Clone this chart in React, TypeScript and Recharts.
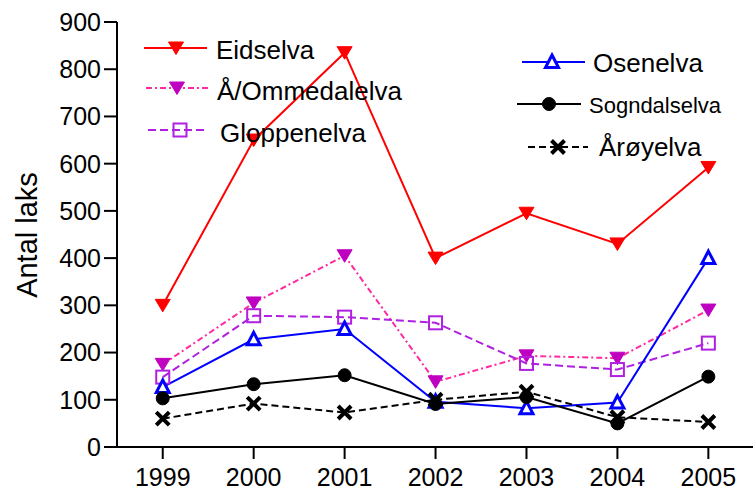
import React from 'react';
import { LineChart, Line, XAxis, YAxis } from 'recharts';

const years = [1999, 2000, 2001, 2002, 2003, 2004, 2005];
const eidselva = [300, 650, 835, 400, 495, 430, 592];
const ommedalelva = [175, 305, 405, 138, 193, 188, 290];
const gloppenelva = [148, 278, 275, 263, 177, 164, 220];
const osenelva = [127, 228, 250, 96, 82, 94, 400];
const sogndalselva = [103, 133, 152, 91, 106, 50, 149];
const aroyelva = [60, 92, 73, 100, 117, 63, 53];
const yTicks = [0, 100, 200, 300, 400, 500, 600, 700, 800, 900];

const data = years.map((y, i) => ({
  year: y,
  eid: eidselva[i],
  omm: ommedalelva[i],
  glo: gloppenelva[i],
  ose: osenelva[i],
  sog: sogndalselva[i],
  aro: aroyelva[i],
}));

const FONT = '"Liberation Sans", Arial, sans-serif';

const TriDown = (fill: string) => (cx: number, cy: number, key?: any) => (
  <path key={key} d={`M${cx - 7.5},${cy - 6} L${cx + 7.5},${cy - 6} L${cx},${cy + 6.5} Z`} fill={fill} stroke={fill} strokeWidth={1} />
);
const Square = (color: string) => (cx: number, cy: number, key?: any) => (
  <rect key={key} x={cx - 6.5} y={cy - 6.5} width={13} height={13} fill="none" stroke={color} strokeWidth={2} />
);
const TriUp = (color: string) => (cx: number, cy: number, key?: any) => (
  <path key={key} d={`M${cx},${cy - 7} L${cx + 6.5},${cy + 5.5} L${cx - 6.5},${cy + 5.5} Z`} fill="#fff" stroke={color} strokeWidth={3} strokeLinejoin="miter" />
);
const Circle = (color: string) => (cx: number, cy: number, key?: any) => (
  <circle key={key} cx={cx} cy={cy} r={6.5} fill={color} stroke={color} />
);
const Cross = (color: string) => (cx: number, cy: number, key?: any) => (
  <path key={key} d={`M${cx - 6.5},${cy - 6.5} L${cx + 6.5},${cy + 6.5} M${cx + 6.5},${cy - 6.5} L${cx - 6.5},${cy + 6.5}`} stroke={color} strokeWidth={4} fill="none" />
);

const dotFn = (m: (cx: number, cy: number, key?: any) => any) => (props: any) => {
  const { cx, cy, index } = props;
  if (cx == null || cy == null) return <g key={index} />;
  return m(cx, cy, index);
};

const series = [
  { key: 'eid', name: 'Eidselva', color: '#ff0000', dash: undefined, marker: TriDown('#ff0000') },
  { key: 'omm', name: 'Å/Ommedalelva', color: '#ff2aa0', dash: '6 3 2 3', marker: TriDown('#c000c0') },
  { key: 'glo', name: 'Gloppenelva', color: '#b020e0', dash: '8 4', marker: Square('#b020e0') },
  { key: 'ose', name: 'Osenelva', color: '#0000ff', dash: undefined, marker: TriUp('#0000ff') },
  { key: 'sog', name: 'Sogndalselva', color: '#000000', dash: undefined, marker: Circle('#000000') },
  { key: 'aro', name: 'Årøyelva', color: '#000000', dash: '7 4', marker: Cross('#000000') },
];

const legendItems = [
  { s: 0, x1: 144, x2: 207, mx: 176, ly: 48, tx: 216, ty: 59, fs: 26 },
  { s: 1, x1: 146, x2: 208, mx: 177, ly: 88, tx: 217, ty: 100, fs: 26 },
  { s: 2, x1: 148, x2: 208, mx: 180, ly: 130, tx: 220, ty: 142, fs: 26 },
  { s: 3, x1: 522, x2: 585, mx: 552, ly: 62, tx: 593, ty: 72, fs: 26 },
  { s: 4, x1: 517, x2: 581, mx: 549, ly: 104, tx: 589, ty: 113, fs: 22 },
  { s: 5, x1: 528, x2: 588, mx: 558, ly: 147, tx: 599, ty: 156, fs: 26 },
];

const YLabel = () => (
  <text x={37} y={235} textAnchor="middle" transform="rotate(-90 37 235)" fontSize={29} fontFamily={FONT} fill="#000">
    Antal laks
  </text>
);

export default function App() {
  return (
    <div style={{ position: 'absolute', left: 0, top: 0, width: 753, height: 491, background: '#fff' }}>
      <LineChart width={753} height={491} data={data} margin={{ top: 22, right: 0, bottom: 14, left: 0 }}>
        <XAxis
          dataKey="year"
          type="number"
          domain={[1998.497, 2005.491]}
          ticks={years}
          allowDataOverflow
          height={30}
          tickSize={12}
          tickMargin={9}
          stroke="#000"
          strokeWidth={2}
          tick={{ fill: '#000', fontSize: 25, fontFamily: FONT }}
          tickLine={{ stroke: '#000', strokeWidth: 2 }}
        />
        <YAxis
          type="number"
          domain={[0, 900]}
          ticks={yTicks}
          width={117}
          tickSize={13}
          tickMargin={3}
          stroke="#000"
          strokeWidth={2}
          tick={{ fill: '#000', fontSize: 25, fontFamily: FONT }}
          tickLine={{ stroke: '#000', strokeWidth: 2 }}
          label={<YLabel />}
        />
        {series.map((s) => (
          <Line
            key={s.key}
            dataKey={s.key}
            name={s.name}
            type="linear"
            stroke={s.color}
            strokeWidth={2}
            strokeDasharray={s.dash}
            dot={dotFn(s.marker)}
            activeDot={false}
            isAnimationActive={false}
          />
        ))}
      </LineChart>
      <svg width={753} height={491} style={{ position: 'absolute', left: 0, top: 0, pointerEvents: 'none' }}>
        {legendItems.map((it) => {
          const s = series[it.s];
          return (
            <g key={s.key}>
              <line x1={it.x1} x2={it.x2} y1={it.ly} y2={it.ly} stroke={s.color} strokeWidth={2} strokeDasharray={s.dash} />
              {s.marker(it.mx, it.ly)}
              <text x={it.tx} y={it.ty} fontSize={it.fs} fontFamily={FONT} fill="#000">
                {s.name}
              </text>
            </g>
          );
        })}
      </svg>
    </div>
  );
}
